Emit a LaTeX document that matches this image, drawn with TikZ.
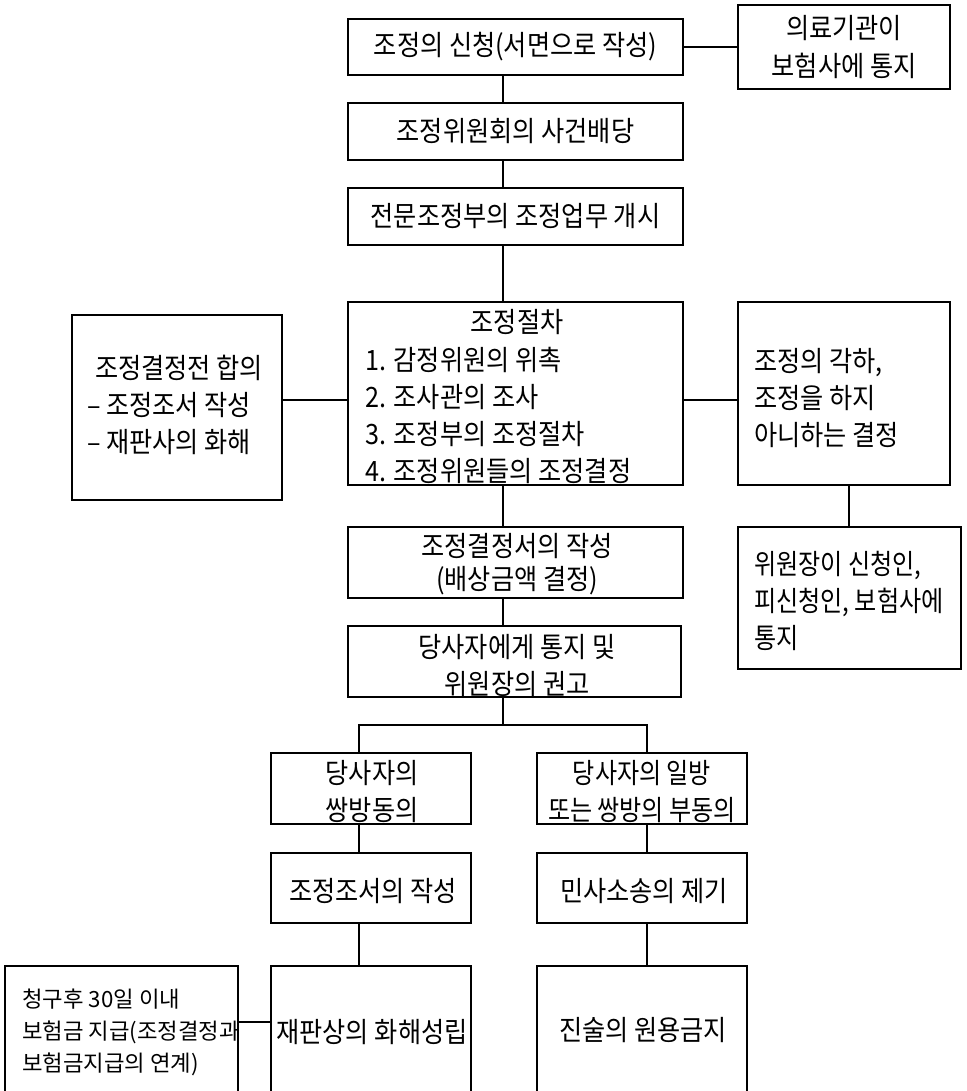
\documentclass[tikz,border=0pt]{standalone}
\usepackage{fontspec}
\setmainfont{Noto Sans CJK KR}[FakeStretch=0.9]
\newfontfamily\plainkr{Noto Sans CJK KR}
\newfontfamily\narrowkr{Noto Sans CJK KR}[FakeStretch=0.86]
\begin{document}
\begin{tikzpicture}[x=1pt,y=-1pt,
  box/.style={draw=black, line width=1.5pt, inner sep=0pt, font=\fontsize{28}{37}\selectfont, align=center},
  con/.style={draw=black, line width=1.1pt},
  txt/.style={inner sep=0pt, font=\fontsize{28}{37}\selectfont},
  small/.style={inner sep=0pt, font=\plainkr\fontsize{22.3}{32}\selectfont},
  ]
\useasboundingbox (0,0) rectangle (966,1091);
\clip (0,0) rectangle (966,1091);
% main column
\node[box, minimum width=335, minimum height=56] (B1) at (515.5,47) {조정의 신청(서면으로 작성)};
\node[box, minimum width=212, minimum height=84] (R1) at (844,47) {의료기관이\\[1pt]보험사에 통지};
\node[box, minimum width=335, minimum height=57] (B2) at (515.5,131.5) {조정위원회의 사건배당};
\node[box, minimum width=335, minimum height=57] (B3) at (515.5,216.5) {전문조정부의 조정업무 개시};
\node[box, minimum width=335, minimum height=183] (B4) at (515.5,393.5) {};
\node[txt] (B4t) at (517,322) {조정절차};
\node[txt, anchor=west, align=left] (B4l) at (365,415) {1. 감정위원의 위촉\\2. 조사관의 조사\\3. 조정부의 조정절차\\4. 조정위원들의 조정결정};
\node[box, minimum width=210, minimum height=185] (L4) at (177,407.5) {};
\node[txt, anchor=west, align=left] (L4t) at (87,405) {\hspace{8pt}조정결정전 합의\\– 조정조서 작성\\– 재판사의 화해};
\node[box, minimum width=212, minimum height=183] (R4) at (844,393.5) {};
\node[txt, anchor=west, align=left] (R4t) at (754,398) {조정의 각하,\\조정을 하지\\아니하는 결정};
\node[box, minimum width=223, minimum height=142] (R5) at (849.5,598) {};
\node[txt, anchor=west, align=left, font=\narrowkr\fontsize{28}{37}\selectfont] (R5t) at (754,601) {위원장이 신청인,\\피신청인, 보험사에\\통지};
\node[box, minimum width=335, minimum height=71] (B5) at (515.5,562.5) {};
\node[txt, align=center, font=\fontsize{28}{33}\selectfont] (B5t) at (517,564) {조정결정서의 작성\\(배상금액 결정)};
\node[box, minimum width=333, minimum height=71] (B6) at (514.5,661.5) {};
\node[txt, align=center] (B6t) at (517,666) {당사자에게 통지 및\\위원장의 권고};
% branches
\node[box, minimum width=200, minimum height=71] (C1) at (371,788.5) {};
\node[txt, align=center] (C1t) at (372,791.5) {당사자의\\쌍방동의};
\node[box, minimum width=210, minimum height=71] (D1) at (642,788.5) {};
\node[txt, align=center, font=\narrowkr\fontsize{28}{37}\selectfont] (D1t) at (642,791.5) {당사자의 일방\\또는 쌍방의 부동의};
\node[box, minimum width=200, minimum height=70] (C2) at (371,888) {};
\node[txt] (C2t) at (373,891) {조정조서의 작성};
\node[box, minimum width=210, minimum height=70] (D2) at (642,888) {};
\node[txt] (D2t) at (644,891) {민사소송의 제기};
\node[box, minimum width=200, minimum height=134] (C3) at (371,1033) {};
\node[txt] (C3t) at (372,1032) {재판상의 화해성립};
\node[box, minimum width=210, minimum height=134] (D3) at (642,1033) {};
\node[txt] (D3t) at (643,1030) {진술의 원용금지};
\node[box, minimum width=233, minimum height=134] (E3) at (121.5,1033) {};
\node[small, anchor=west, align=left] (E3t) at (22,1032) {청구후 30일 이내\\보험금 지급(조정결정과\\보험금지급의 연계)};
% connectors
\coordinate (mx) at (503,0);
\coordinate (cx) at (359,0);
\coordinate (dx) at (647,0);
\coordinate (rx) at (849,0);
\coordinate (hy1) at (0,47);
\coordinate (hy4) at (0,400);
\coordinate (hy9) at (0,1022);
\coordinate (sp) at (503,725);
\draw[con] (B1.south -| mx) -- (B2.north -| mx);
\draw[con] (B2.south -| mx) -- (B3.north -| mx);
\draw[con] (B3.south -| mx) -- (B4.north -| mx);
\draw[con] (B4.south -| mx) -- (B5.north -| mx);
\draw[con] (B5.south -| mx) -- (B6.north -| mx);
\draw[con] (B6.south -| mx) -- (sp);
\draw[con] (C1.north -| cx) |- (sp) -| (D1.north -| dx);
\draw[con] (C1.south -| cx) -- (C2.north -| cx);
\draw[con] (C2.south -| cx) -- (C3.north -| cx);
\draw[con] (D1.south -| dx) -- (D2.north -| dx);
\draw[con] (D2.south -| dx) -- (D3.north -| dx);
\draw[con] (B1.east |- hy1) -- (R1.west |- hy1);
\draw[con] (L4.east |- hy4) -- (B4.west |- hy4);
\draw[con] (B4.east |- hy4) -- (R4.west |- hy4);
\draw[con] (R4.south -| rx) -- (R5.north -| rx);
\draw[con] (E3.east |- hy9) -- (C3.west |- hy9);
\end{tikzpicture}
\end{document}
